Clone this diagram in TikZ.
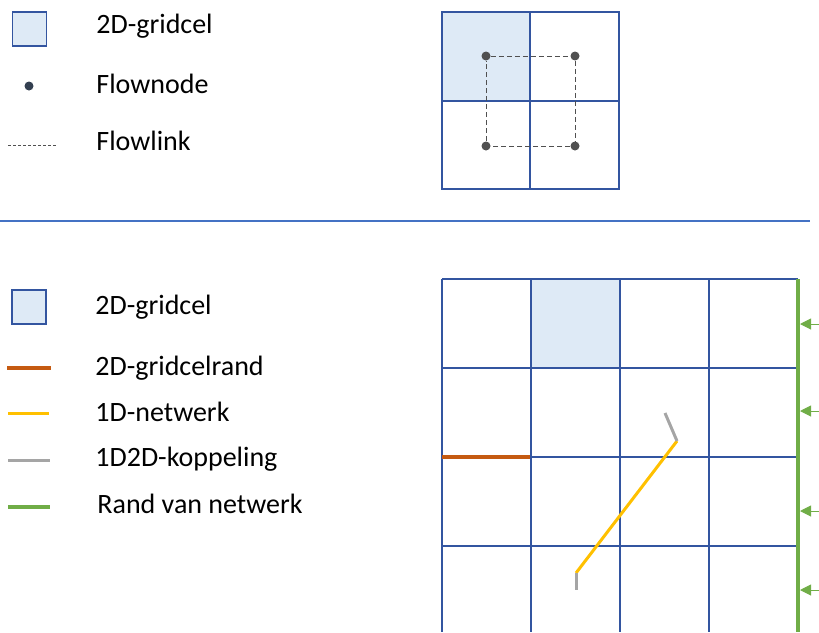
\documentclass[tikz,border=0pt]{standalone}
\usepackage{fontspec}
\setmainfont{Carlito}
\usetikzlibrary{arrows.meta, positioning}
\definecolor{gridblue}{HTML}{3355A0}
\definecolor{cellblue}{HTML}{DEEAF6}
\definecolor{sepblue}{HTML}{4472C4}
\definecolor{randorange}{HTML}{C55A11}
\definecolor{netyellow}{HTML}{FFC000}
\definecolor{koppelgray}{HTML}{A5A5A5}
\definecolor{randgreen}{HTML}{70AD47}
\definecolor{nodegray}{HTML}{505050}
\definecolor{legdot}{HTML}{333F50}
\tikzset{
  gridline/.style   = {draw=gridblue, line width=0.55pt},
  gridcell/.style   = {fill=cellblue},
  legcell/.style    = {rectangle, draw=gridblue, fill=cellblue, line width=0.55pt,
                       minimum size=17pt, inner sep=0pt},
  flownode/.style   = {circle, fill=nodegray, minimum size=4.5pt, inner sep=0pt},
  legnode/.style    = {circle, fill=legdot, minimum size=4.5pt, inner sep=0pt},
  flowlink/.style   = {draw=nodegray, line width=0.4pt, dash pattern=on 2.5pt off 1.5pt},
  leglink/.style    = {draw=nodegray, line width=0.4pt, dash pattern=on 1.5pt off 1pt},
  cellrand/.style   = {draw=randorange, line width=1.7pt},
  netwerk/.style    = {draw=netyellow, line width=1.5pt},
  koppeling/.style  = {draw=koppelgray, line width=1.5pt},
  netrand/.style    = {draw=randgreen, line width=2pt},
  randarr/.style    = {draw=randgreen, line width=0.5pt, -{Triangle[length=5.5pt, width=5.5pt]}},
  legtext/.style    = {anchor=west, inner sep=0pt, font=\fontsize{14}{16}\selectfont},
}
\begin{document}
\begin{tikzpicture}[x=0.5pt, y=-0.5pt]
  \useasboundingbox (0,0) rectangle (819,632);

  % Legend - top
  \node[legcell] (lcell1) at (29.5,29) {};
  \node[legtext] (tcell1) at (96,26) {2D-gridcel};
  \node[legnode] (lnode) at (29,86) {};
  \node[legtext] (tnode) at (96,84) {Flownode};
  \coordinate (llink1) at (8,145);
  \coordinate (llink2) at (58,145);
  \draw[leglink] (llink1) -- (llink2);
  \node[legtext] (tlink) at (96,141) {Flowlink};

  % Top grid with flownodes
  \fill[gridcell] (442,12) rectangle (530,101);
  \draw[gridline] (442,12) rectangle (619,189);
  \draw[gridline] (530,12) -- (530,189);
  \draw[gridline] (442,101) -- (619,101);
  \node[flownode] (fn1) at (486,56) {};
  \node[flownode] (fn2) at (575,56) {};
  \node[flownode] (fn3) at (486,146) {};
  \node[flownode] (fn4) at (575,146) {};
  \draw[flowlink] (fn1) -- (fn2) -- (fn4) -- (fn3) -- (fn1);

  % Separator
  \draw[draw=sepblue, line width=0.6pt] (0,221) -- (810,221);

  % Legend - bottom
  \node[legcell] (lcell2) at (29,307) {};
  \node[legtext] (tcell2) at (95,307) {2D-gridcel};
  \draw[cellrand] (7,368) -- (51,368);
  \node[legtext] (trand) at (95,368) {2D-gridcelrand};
  \draw[netwerk] (8,413) -- (49,413);
  \node[legtext] (tnet) at (95,412) {1D-netwerk};
  \draw[koppeling] (8,460) -- (50,460);
  \node[legtext] (tkop) at (95,459) {1D2D-koppeling};
  \draw[netrand] (8,507) -- (50,507);
  \node[legtext] (tnetrand) at (97,504) {Rand van netwerk};

  % Bottom grid
  \fill[gridcell] (531,279) rectangle (620,368);
  \foreach \x in {442,531,620,709}
    \draw[gridline] (\x,279) -- (\x,632);
  \foreach \y in {279,368,457,546}
    \draw[gridline] (442,\y) -- (798,\y);
  \foreach \x in {620,709}
    \draw[gridline, line width=0.9pt] (\x,546) -- (\x,632);
  \draw[cellrand] (442,457) -- (530,457);

  % 1D network and 1D2D links
  \coordinate (nw1) at (576,573);
  \coordinate (nw2) at (677,441);
  \coordinate (kp1) at (576,590);
  \coordinate (kp2) at (665,413);
  \draw[netwerk] (nw1) -- (nw2);
  \draw[koppeling] (nw1) -- (kp1);
  \draw[koppeling] (nw2) -- (kp2);

  % Network boundary
  \draw[netrand] (798,279) -- (798,632);
  \foreach \y [count=\i] in {324,411,511,590} {
    \coordinate (rs\i) at (819,\y);
    \coordinate (re\i) at (800,\y);
    \draw[randarr] (rs\i) -- (re\i);
  }
\end{tikzpicture}
\end{document}
